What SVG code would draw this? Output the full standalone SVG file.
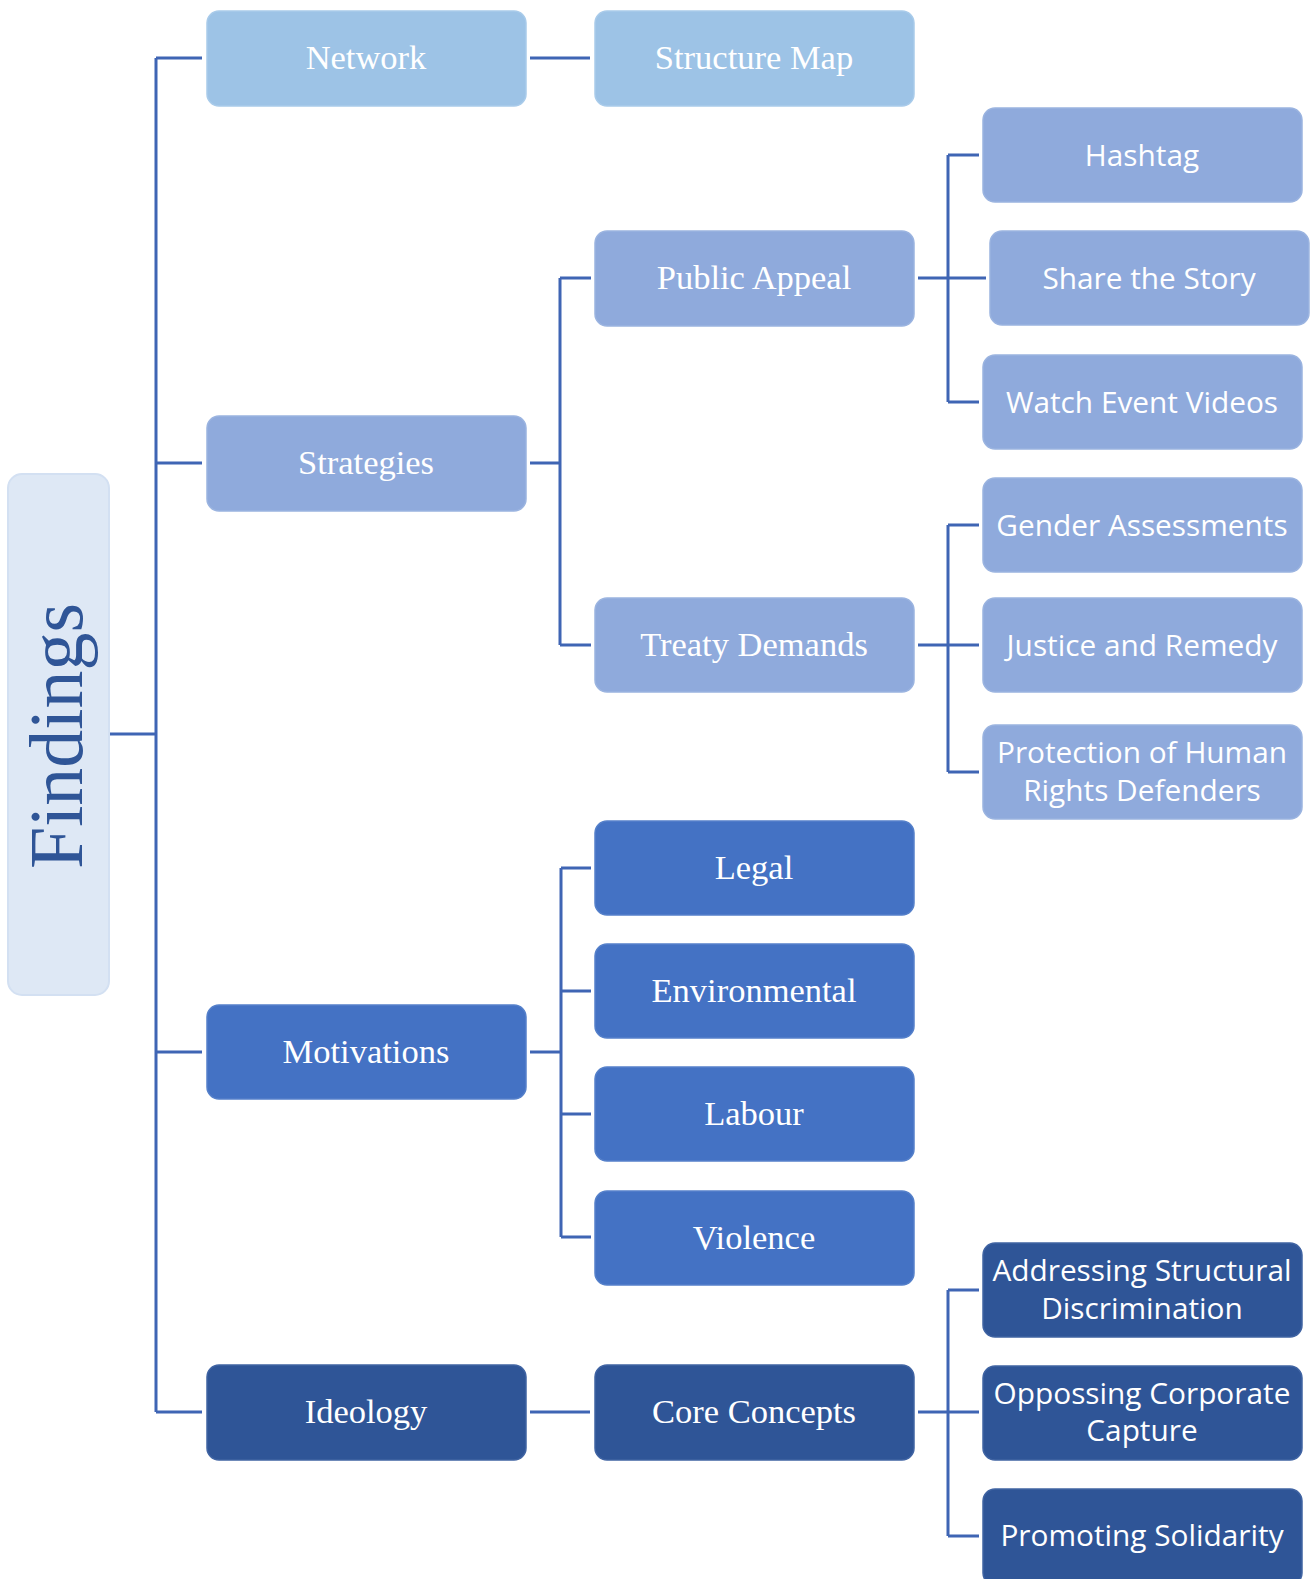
<svg xmlns="http://www.w3.org/2000/svg" width="1312" height="1579" viewBox="0 0 1312 1579">
<style>
.box{stroke-width:1.5}
.l1{fill:#9DC3E6;stroke:#A9CBEA}
.l2{fill:#8FAADC;stroke:#9BB4E0}
.l3{fill:#4472C4;stroke:#5580CA}
.l4{fill:#2F5597;stroke:#4064A3}
.serif{font-family:"Liberation Serif","Times New Roman",serif;font-size:34.5px;fill:#FFFFFF;text-anchor:middle}
.sans{font-family:"Open Sans","Noto Sans",sans-serif;font-size:29.8px;fill:#FFFFFF;text-anchor:middle}
.conn path{fill:none;stroke:#3F65B4;stroke-width:3}
</style>
<rect width="1312" height="1579" fill="#FFFFFF"/>
<g class="conn" id="connectors">
<path d="M109 734H156M156 58V1412M156 58H202M156 463H202M156 1052H202M156 1412H202"/>
<path d="M530 58H590"/>
<path d="M530 463H560M560 278V645M560 278H591M560 645H591"/>
<path d="M918 278H986M948 155V402M948 155H979M948 402H979"/>
<path d="M918 645H979M948 525V772M948 525H979M948 772H979"/>
<path d="M530 1052H561M561 868V1237M561 868H591M561 991H591M561 1114H591M561 1237H591"/>
<path d="M530 1412H590"/>
<path d="M918 1412H979M948 1290V1536M948 1290H979M948 1536H979"/>
</g>
<g id="findings">
<rect x="8" y="474" width="101" height="521" rx="14" fill="#DEE8F5" stroke="#D3E0F2" stroke-width="2"/>
<text x="82" y="736" transform="rotate(-90 82 736)" font-family="Liberation Serif,Times New Roman,serif" font-size="76" fill="#2F5597" text-anchor="middle">Findings</text>
</g>
<g id="network"><rect class="box l1" x="207" y="11" width="319" height="95" rx="12"/><text class="serif" x="366" y="69">Network</text></g>
<g id="structure-map"><rect class="box l1" x="595" y="11" width="319" height="95" rx="12"/><text class="serif" x="754" y="69">Structure Map</text></g>
<g id="strategies"><rect class="box l2" x="207" y="416" width="319" height="95" rx="12"/><text class="serif" x="366" y="474">Strategies</text></g>
<g id="public-appeal"><rect class="box l2" x="595" y="231" width="319" height="95" rx="12"/><text class="serif" x="754" y="289">Public Appeal</text></g>
<g id="treaty-demands"><rect class="box l2" x="595" y="598" width="319" height="94" rx="12"/><text class="serif" x="754" y="656">Treaty Demands</text></g>
<g id="hashtag"><rect class="box l2" x="983" y="108" width="319" height="94" rx="12"/><text class="sans" x="1142" y="166">Hashtag</text></g>
<g id="share-story"><rect class="box l2" x="990" y="231" width="319" height="94" rx="12"/><text class="sans" x="1149" y="289">Share the Story</text></g>
<g id="watch-videos"><rect class="box l2" x="983" y="355" width="319" height="94" rx="12"/><text class="sans" x="1142" y="413">Watch Event Videos</text></g>
<g id="gender"><rect class="box l2" x="983" y="478" width="319" height="94" rx="12"/><text class="sans" x="1142" y="536">Gender Assessments</text></g>
<g id="justice"><rect class="box l2" x="983" y="598" width="319" height="94" rx="12"/><text class="sans" x="1142" y="656">Justice and Remedy</text></g>
<g id="protection"><rect class="box l2" x="983" y="725" width="319" height="94" rx="12"/><text class="sans" x="1142" y="763">Protection of Human</text><text class="sans" x="1142" y="801">Rights Defenders</text></g>
<g id="motivations"><rect class="box l3" x="207" y="1005" width="319" height="94" rx="12"/><text class="serif" x="366" y="1063">Motivations</text></g>
<g id="legal"><rect class="box l3" x="595" y="821" width="319" height="94" rx="12"/><text class="serif" x="754" y="879">Legal</text></g>
<g id="environmental"><rect class="box l3" x="595" y="944" width="319" height="94" rx="12"/><text class="serif" x="754" y="1002">Environmental</text></g>
<g id="labour"><rect class="box l3" x="595" y="1067" width="319" height="94" rx="12"/><text class="serif" x="754" y="1125">Labour</text></g>
<g id="violence"><rect class="box l3" x="595" y="1191" width="319" height="94" rx="12"/><text class="serif" x="754" y="1249">Violence</text></g>
<g id="ideology"><rect class="box l4" x="207" y="1365" width="319" height="95" rx="12"/><text class="serif" x="366" y="1423">Ideology</text></g>
<g id="core-concepts"><rect class="box l4" x="595" y="1365" width="319" height="95" rx="12"/><text class="serif" x="754" y="1423">Core Concepts</text></g>
<g id="addressing"><rect class="box l4" x="983" y="1243" width="319" height="94" rx="12"/><text class="sans" x="1142" y="1281">Addressing Structural</text><text class="sans" x="1142" y="1319">Discrimination</text></g>
<g id="opposing"><rect class="box l4" x="983" y="1366" width="319" height="94" rx="12"/><text class="sans" x="1142" y="1404">Oppossing Corporate</text><text class="sans" x="1142" y="1441">Capture</text></g>
<g id="promoting"><rect class="box l4" x="983" y="1489" width="319" height="96" rx="12"/><text class="sans" x="1142" y="1546">Promoting Solidarity</text></g>
</svg>
